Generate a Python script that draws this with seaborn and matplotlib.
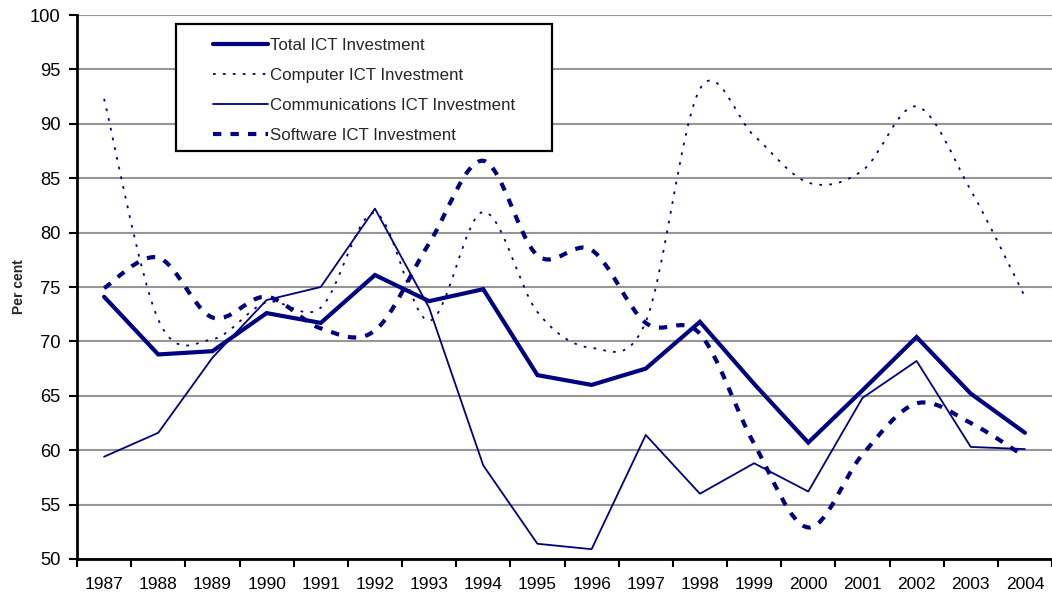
import numpy as np
import pandas as pd
import matplotlib
matplotlib.use("Agg")
import matplotlib.pyplot as plt
import seaborn as sns
from matplotlib.path import Path
from matplotlib.patches import PathPatch, Rectangle
from matplotlib.lines import Line2D

# ---- data ----
years = [str(y) for y in range(1987, 2005)]
total = [74.1, 68.8, 69.1, 72.6, 71.7, 76.1, 73.7, 74.8, 66.9, 66.0, 67.5, 71.8, 66.1, 60.7, 65.5, 70.4, 65.2, 61.6]
computer = [92.3, 72.0, 70.2, 73.6, 73.1, 81.8, 71.9, 81.9, 72.7, 69.4, 71.8, 93.2, 88.9, 84.6, 85.7, 91.6, 83.9, 74.1]
comms = [59.4, 61.6, 68.5, 73.8, 75.0, 82.2, 73.1, 58.6, 51.4, 50.9, 61.4, 56.0, 58.8, 56.2, 64.8, 68.2, 60.3, 60.1]
software = [74.9, 77.7, 72.2, 74.1, 71.2, 71.0, 79.0, 86.6, 77.9, 78.4, 71.7, 70.7, 60.6, 52.9, 59.6, 64.3, 62.5, 59.4]
labels = ["Total ICT Investment", "Computer ICT Investment",
          "Communications ICT Investment", "Software ICT Investment"]
yticks = list(range(50, 101, 5))

sns.set_theme(style="white")
plt.rcParams["font.family"] = ["Liberation Sans", "DejaVu Sans"]

NAVY = "#000080"
fig = plt.figure(figsize=(10.52, 5.96), dpi=100)
ax = fig.add_axes([0.0732, 0.0621, 0.9268, 0.9127])

xpos = np.arange(len(years))
df = pd.DataFrame({"x": xpos, "total": total, "computer": computer,
                   "comms": comms, "software": software})

sns.lineplot(data=df, x="x", y="total", ax=ax, color=NAVY, lw=3.0,
             solid_joinstyle="miter", zorder=4)
sns.lineplot(data=df, x="x", y="comms", ax=ax, color=NAVY, lw=1.3, zorder=3)


def smooth_patch(xs, ys, **kw):
    P = np.column_stack([xs, ys]).astype(float)
    n = len(P)
    verts = [tuple(P[0])]
    codes = [Path.MOVETO]
    t = 1.0 / 6.0
    for i in range(n - 1):
        p0 = P[i - 1] if i > 0 else P[i]
        p1 = P[i]
        p2 = P[i + 1]
        p3 = P[i + 2] if i + 2 < n else P[i + 1]
        c1 = p1 + (p2 - p0) * t
        c2 = p2 - (p3 - p1) * t
        verts += [tuple(c1), tuple(c2), tuple(p2)]
        codes += [Path.CURVE4] * 3
    return PathPatch(Path(verts, codes), fill=False, transform=ax.transData, **kw)


ax.add_patch(smooth_patch(xpos, computer, edgecolor=NAVY, lw=1.3,
                          linestyle=(0, (1.5, 4.0)), zorder=3))
ax.add_patch(smooth_patch(xpos, software, edgecolor=NAVY, lw=3.0,
                          linestyle=(0, (2.0, 2.2)), capstyle="butt", zorder=3))

ax.set_xlim(-0.5, len(years) - 0.5)
ax.set_ylim(50, 100)
ax.set_yticks(yticks)
ax.set_yticklabels([str(v) for v in yticks], fontsize=13.2, color="black")
ax.set_xticks(xpos)
ax.set_xticklabels(years, fontsize=12.5, color="black")
ax.set_xticks(np.arange(-0.5, len(years), 1.0), minor=True)
ax.tick_params(axis="x", which="major", length=0, pad=13)
ax.tick_params(axis="x", which="minor", length=6, width=1.5, direction="out",
               color="black", bottom=True)
ax.tick_params(axis="y", which="major", length=6, width=1.5, direction="out",
               color="black", left=True, pad=6)

ax.grid(axis="y", color="#969696", lw=1.5)
ax.grid(axis="x", visible=False)
ax.set_axisbelow(True)
for s in ["top", "right"]:
    ax.spines[s].set_visible(False)
for s in ["left", "bottom"]:
    ax.spines[s].set_color("black")
    ax.spines[s].set_linewidth(2.0)
    ax.spines[s].set_zorder(6)

ax.set_xlabel("")
ax.set_ylabel("Per cent", fontsize=10, fontweight="bold", labelpad=3)

# legend box
ax.add_patch(Rectangle((0.1015, 0.75), 0.3855, 0.233, transform=ax.transAxes,
                       facecolor="white", edgecolor="black", lw=1.6, zorder=7))
handles = [
    Line2D([], [], color=NAVY, lw=3.0),
    Line2D([], [], color=NAVY, lw=1.3, linestyle=(0, (1.5, 4.0))),
    Line2D([], [], color=NAVY, lw=1.3),
    Line2D([], [], color=NAVY, lw=3.0, linestyle=(0, (2.0, 2.2))),
]
leg = ax.legend(handles, labels, frameon=False, loc="upper left",
                bbox_to_anchor=(0.1395, 0.958), borderpad=0, borderaxespad=0,
                handlelength=3.25, handletextpad=0.12, labelspacing=0.88,
                fontsize=12.2)
leg.set_zorder(8)

fig.savefig("out.png", dpi=100)
